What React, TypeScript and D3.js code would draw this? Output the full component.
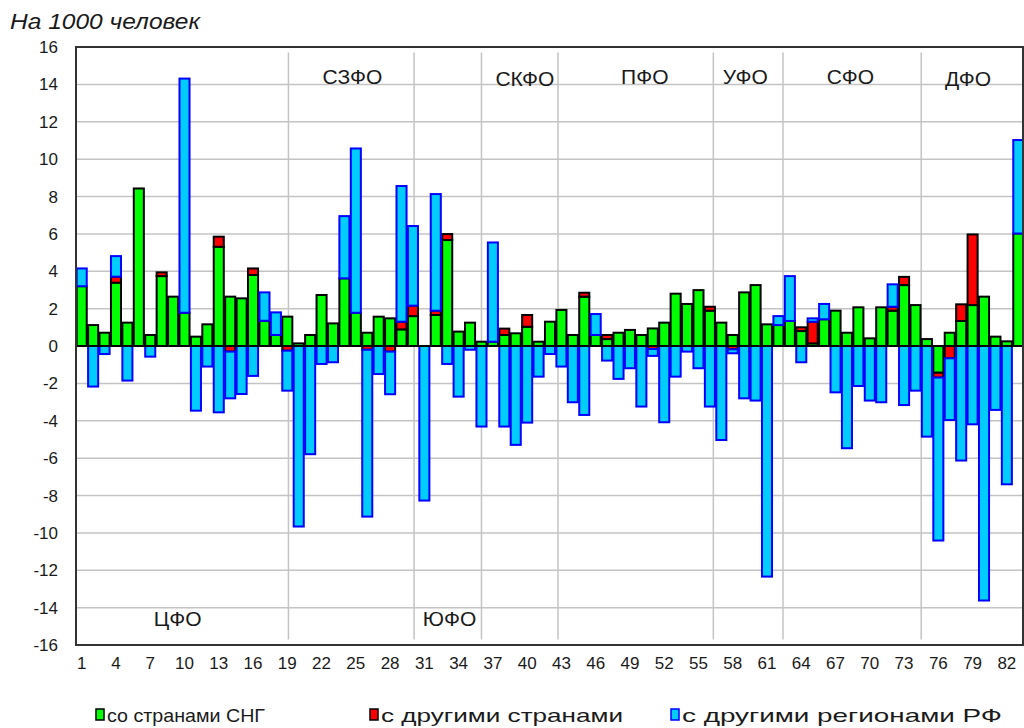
import * as d3 from "d3";

// region numbers 1..83
const regionIds = d3.range(1, 84).map(String);

// migration balance per 1000 people, three components
const cisValues = [
  3.2, 1.12, 0.71, 3.39, 1.25, 8.43, 0.59, 3.74, 2.64, 1.78,
  0.5, 1.16, 5.31, 2.64, 2.55, 3.8, 1.35, 0.59, 1.57, 0.14,
  0.59, 2.73, 1.21, 3.62, 1.78, 0.71, 1.57, 1.48, 0.89, 1.6,
  0, 1.66, 5.67, 0.77, 1.25, 0.23, 0.23, 0.59, 0.68, 1.03,
  0.23, 1.3, 1.93, 0.59, 2.64, 0.59, 0.37, 0.71, 0.86, 0.59,
  0.94, 1.25, 2.8, 2.25, 2.99, 1.89, 1.25, 0.59, 2.87, 3.26,
  1.16, 1.12, 1.34, 0.8, 0.14, 1.43, 1.89, 0.71, 2.07, 0.41,
  2.07, 1.89, 3.26, 2.19, 0.37, -1.43, 0.71, 1.34, 2.19, 2.64,
  0.5, 0.25, 6.02
];
const otherCountryValues = [
  0, 0, 0, 0.32, 0, 0, 0, 0.2, 0, 0,
  0, 0, 0.54, -0.3, 0, 0.35, 0, 0, -0.25, 0,
  0, 0, 0, 0, 0, -0.2, 0, -0.3, 0.41, 0.56,
  0, 0.23, 0.32, 0, 0, 0, 0, 0.34, 0, 0.63,
  0, 0, 0, 0, 0.21, 0, 0.22, 0, 0, 0,
  -0.16, 0, 0, 0, 0, 0.21, 0, -0.18, 0, 0,
  0, 0, 0, 0.2, 1.16, 0, 0, 0, 0, 0,
  0, 0.21, 0.44, 0, 0, -0.26, -0.66, 0.89, 3.78, 0,
  0, 0, 0
];
const russiaRegionValues = [
  0.95, -2.17, -0.43, 1.1, -1.85, 0, -0.57, 0, 0, 12.53,
  -3.46, -1.1, -3.55, -2.5, -2.57, -1.6, 1.52, 1.21, -2.14, -9.66,
  -5.79, -0.96, -0.87, 3.33, 8.79, -8.93, -1.5, -2.28, 7.26, 4.26,
  -8.27, 6.24, -0.96, -2.71, -0.2, -4.31, 5.31, -4.31, -5.29, -4.1,
  -1.64, -0.43, -1.1, -3.01, -3.69, 1.12, -0.78, -1.76, -1.19, -3.24,
  -0.37, -4.08, -1.64, -0.3, -1.19, -3.24, -5.03, -0.21, -2.8, -2.92,
  -12.34, 0.48, 2.4, -0.87, 0.18, 0.82, -2.48, -5.47, -2.14, -2.92,
  -3.01, 1.2, -3.16, -2.39, -4.85, -8.72, -3.3, -6.13, -4.19, -13.62,
  -3.42, -7.4, 5.0
];

const yTicks = [16, 14, 12, 10, 8, 6, 4, 2, 0, -2, -4, -6, -8, -10, -12, -14, -16];
const xTickLabels = ["1", "4", "7", "10", "13", "16", "19", "22", "25", "28", "31", "34", "37", "40", "43", "46", "49", "52", "55", "58", "61", "64", "67", "70", "73", "76", "79", "82"];

const districtNames = ["ЦФО", "СЗФО", "ЮФО", "СКФО", "ПФО", "УФО", "СФО", "ДФО"];
const districtLabelAt = [9.4, 24.7, 33.2, 39.8, 50.3, 59.1, 68.3, 78.6];
const districtLabelLevel = [-15, 14, -15, 13.9, 14, 14, 14, 13.9];
const districtSeparators = [19.1, 30.1, 36, 42.7, 56.3, 62.4, 74.5];

const seriesKeys = ["cis", "other", "regions"] as const;
const seriesNames = ["со странами СНГ", "с другими странами", "с другими регионами РФ"];
const seriesFill = ["#00ff00", "#ff0000", "#00ccff"];
const seriesStroke = ["#000000", "#000000", "#0000ff"];
const legendAt = [96, 370, 671];
const legendTextWidth = [158, 242, 320];

const font = "'Liberation Sans', Arial, sans-serif";

export default function App() {
  const width = 1024;
  const height = 728;
  const plot = { left: 76, right: 1024, top: 47, bottom: 645 };

  const rows = regionIds.map((id, i) => ({
    id,
    cis: cisValues[i],
    other: otherCountryValues[i],
    regions: russiaRegionValues[i]
  }));

  const x = d3.scaleBand<string>()
    .domain(regionIds)
    .range([plot.left, plot.right])
    .paddingInner(0.12)
    .paddingOuter(0.06);
  const xPos = d3.scaleLinear()
    .domain([0.5, regionIds.length + 0.5])
    .range([plot.left, plot.right]);
  const y = d3.scaleLinear().domain([-16, 16]).range([plot.bottom, plot.top]);

  const stacked = d3.stack<typeof rows[number]>()
    .keys(seriesKeys as unknown as string[])
    .offset(d3.stackOffsetDiverging)(rows);

  return (
    <div style={{ position: "absolute", left: 0, top: 0 }}>
      <svg width={width} height={height} style={{ display: "block", background: "#fff" }}>
        <text x={10} y={29} fontFamily={font} fontStyle="italic" fontSize={22} textLength={190} lengthAdjust="spacingAndGlyphs" fill="#1a1a1a">
          На 1000 человек
        </text>

        {yTicks.map((t) => (
          <g key={t}>
            <line x1={plot.left} x2={plot.right} y1={y(t)} y2={y(t)} stroke="#c4c4c4" strokeWidth={1.5} />
            <text x={58} y={y(t)} dy="0.36em" textAnchor="end" fontFamily={font} fontSize={17} fill="#1a1a1a">
              {t}
            </text>
          </g>
        ))}

        {districtSeparators.map((p) => (
          <line key={p} x1={xPos(p)} x2={xPos(p)} y1={y(15.7)} y2={y(-15.7)} stroke="#c4c4c4" strokeWidth={1.5} />
        ))}

        {districtNames.map((name, i) => (
          <text key={name} x={xPos(districtLabelAt[i])} y={y(districtLabelLevel[i])} textAnchor="middle" fontFamily={font} fontSize={21} fill="#1a1a1a">
            {name}
          </text>
        ))}

        {stacked.map((layer, si) => (
          <g key={layer.key}>
            {layer.map((seg, i) => {
              if (seg[1] - seg[0] === 0) return null;
              const top = y(Math.max(seg[0], seg[1]));
              const bottom = y(Math.min(seg[0], seg[1]));
              return (
                <rect
                  key={i}
                  x={x(regionIds[i])}
                  y={top}
                  width={x.bandwidth()}
                  height={bottom - top}
                  fill={seriesFill[si]}
                  stroke={seriesStroke[si]}
                  strokeWidth={2}
                />
              );
            })}
          </g>
        ))}

        <line x1={plot.left} x2={plot.right} y1={y(0)} y2={y(0)} stroke="#000" strokeWidth={2} />
        <rect x={plot.left} y={plot.top} width={plot.right - plot.left - 1} height={plot.bottom - plot.top} fill="none" stroke="#333" strokeWidth={2} />

        {xTickLabels.map((t) => (
          <text key={t} x={(x(t) ?? 0) + x.bandwidth() / 2} y={669} textAnchor="middle" fontFamily={font} fontSize={17} fill="#1a1a1a">
            {t}
          </text>
        ))}

        {seriesNames.map((name, i) => (
          <g key={name}>
            <rect x={legendAt[i]} y={709} width={8} height={11} fill={seriesFill[i]} stroke={seriesStroke[i]} strokeWidth={1.5} />
            <text x={legendAt[i] + 11} y={722} fontFamily={font} fontSize={19} textLength={legendTextWidth[i]} lengthAdjust="spacingAndGlyphs" fill="#1a1a1a">
              {name}
            </text>
          </g>
        ))}
      </svg>
    </div>
  );
}
